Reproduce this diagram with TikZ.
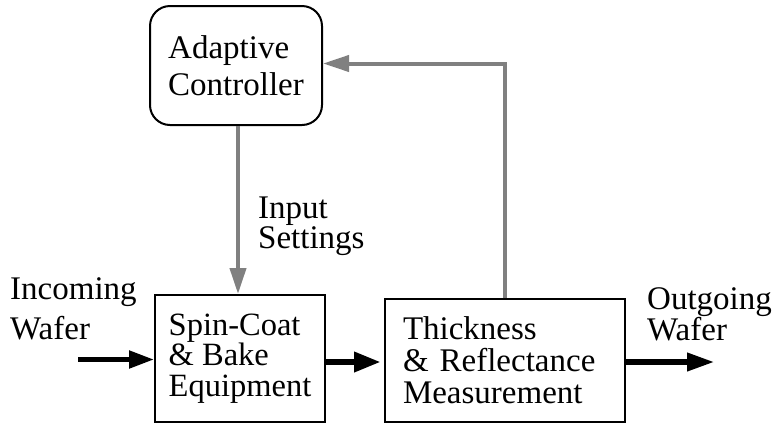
\documentclass[tikz,border=0pt]{standalone}
\usepackage{fontspec}
\setmainfont{Liberation Serif}
\usetikzlibrary{arrows.meta}
\definecolor{fbgray}{HTML}{808080}
\begin{document}
\begin{tikzpicture}[x=1pt,y=-1pt,
  boxstyle/.style={draw=black,line width=2pt,inner sep=0pt,align=left},
  lbl/.style={inner sep=0pt,anchor=base west,align=left},
  grayarrow/.style={draw=fbgray,line width=4pt,-{Triangle[length=26pt,width=16pt]}},
  blackarrow/.style={draw=black,line width=6.5pt,-{Triangle[length=27pt,width=19pt]}}]
\useasboundingbox (0,0) rectangle (783,424);
\tikzset{every node/.append style={execute at begin node={\lineskiplimit=-100pt\lineskip=0pt}}}
% boxes
\node[boxstyle,rounded corners=20pt,minimum width=172pt,minimum height=119pt,
  font={\fontsize{33}{37}\selectfont}] (ctrl) at (236,65.5) {Adaptive\\Controller};
\node[boxstyle,minimum width=170pt,minimum height=127pt,
  font={\fontsize{32.5}{30.5}\selectfont}] (spin) at (240,358.5) {Spin-Coat\\\& Bake\\Equipment};
\node[boxstyle,minimum width=240pt,minimum height=123pt,text width=204pt,inner xsep=18pt,
  font={\fontsize{33}{32}\selectfont}] (thick) at (505,360.5) {Thickness\\\& Reflectance\\Measurement};
% labels (anchored at the baseline of the last line)
\node[lbl,font={\fontsize{33}{40}\selectfont}] (inlbl) at (10,339) {Incoming\\Wafer};
\node[lbl,font={\fontsize{33}{31}\selectfont}] (outlbl) at (647,340) {Outgoing\\Wafer};
\node[lbl,font={\fontsize{33}{30}\selectfont}] (setlbl) at (258,248) {Input\\Settings};
% connectors
\coordinate (inc) at (78,359.5);
\coordinate (outc) at (715,362);
\draw[grayarrow] (thick.north) |- ([yshift=2pt]ctrl.east);
\draw[grayarrow] ([xshift=2pt]ctrl.south) -- ([xshift=2pt]ctrl.south |- spin.north);
\draw[blackarrow,line width=5pt,-{Triangle[length=25pt,width=17pt]}] (inc) -- (inc -| spin.west);
\draw[blackarrow,shorten >=3pt] ([yshift=-3.5pt]spin.east) -- ([yshift=-3.5pt]spin.east -| thick.west);
\draw[blackarrow,-{Triangle[length=28pt,width=17pt]}] ([yshift=-1.5pt]thick.east) -- (outc);
\end{tikzpicture}
\end{document}
